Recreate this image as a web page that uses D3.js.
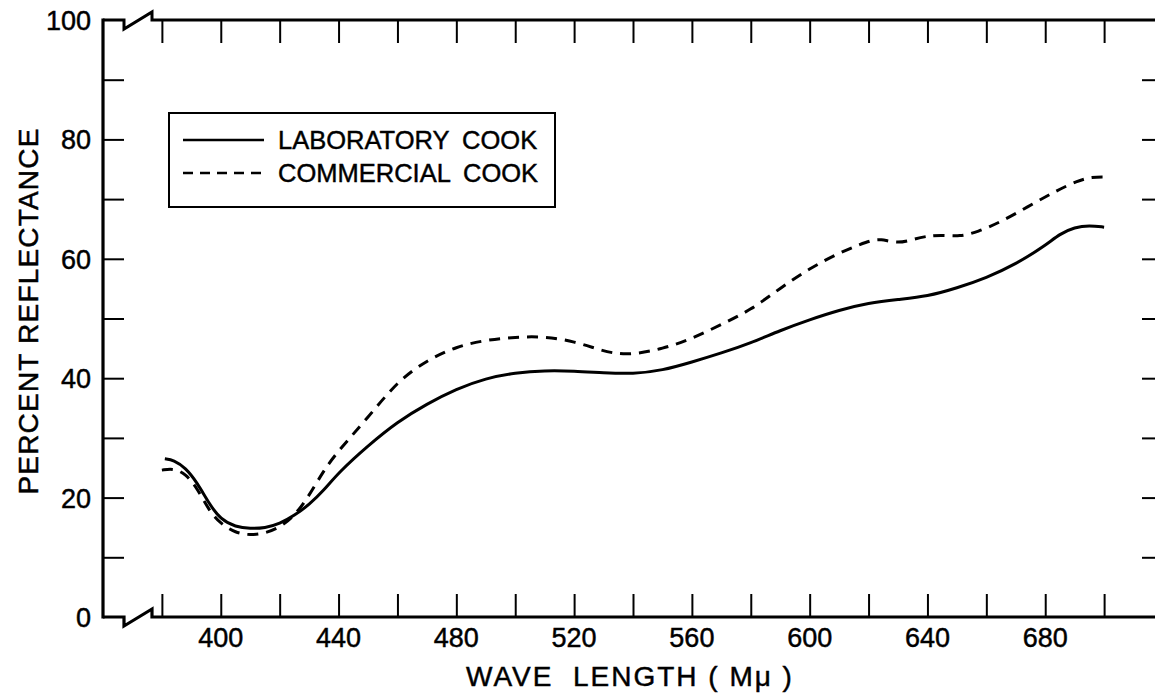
<!DOCTYPE html>
<html><head><meta charset="utf-8">
<script src="https://cdn.jsdelivr.net/npm/d3@7"></script>
<style>
html,body{margin:0;padding:0;background:#fff;}
svg{display:block;}
text{font-family:"Liberation Sans",Arial,sans-serif;fill:#000;stroke:#000;stroke-width:0.45px;}
</style></head>
<body>
<script>
// ---- data ----
const labWave = [381,384,388,392,396,400,405,410,415,420,425,430,435,440,450,460,470,480,490,500,510,520,530,540,550,560,570,580,590,600,610,620,630,640,650,660,670,680,685,690,695,700];
const labValues = [26.5,26.3,25.0,22.5,19.0,16.3,15.1,14.8,14.9,15.6,17.0,18.8,21.2,24.2,28.7,32.7,35.7,38.2,40.0,40.9,41.3,41.2,40.9,40.7,41.3,42.7,44.2,45.9,48.0,49.8,51.4,52.6,53.2,53.7,55.1,56.8,59.1,62.2,64.2,65.3,65.6,65.3];
const comWave = [380,384,388,392,396,400,405,410,415,420,425,430,435,440,450,460,470,480,490,500,510,520,530,535,540,550,560,570,580,590,600,610,620,624,630,636,640,645,651,657,665,674,683,691,696,700];
const comValues = [24.6,24.9,24.0,21.6,17.8,15.6,14.1,13.7,14.0,15.0,16.9,20.3,24.6,27.9,33.4,39.5,43.0,45.3,46.4,46.9,47.0,46.2,44.5,44.1,44.0,44.9,46.6,49.0,51.4,55.1,58.4,61.0,63.0,63.4,62.5,63.4,63.8,64.0,63.7,64.5,66.2,68.7,71.2,73.1,73.7,73.7];
const xTickValues = [380,400,420,440,460,480,500,520,540,560,580,600,620,640,660,680,700];
const xTickLabels = [400,440,480,520,560,600,640,680];
const yTickValues = [10,20,30,40,50,60,70,80,90];
const yTickLabels = [0,20,40,60,80,100];
const seriesNames = ["LABORATORY COOK","COMMERCIAL COOK"];
const xTitle = "WAVE  LENGTH ( Mμ )";
const yTitle = "PERCENT REFLECTANCE";

// ---- layout ----
const W = 1155, H = 698;
const x = d3.scaleLinear().domain([360,720]).range([103,1163]);
const y = d3.scaleLinear().domain([0,100]).range([617,20]);

const svg = d3.select("body").append("svg").attr("width",W).attr("height",H);

const x0 = x(360), yb = y(0), yt = y(100), xr = x(720);
// frame with axis breaks
const brk = [[x0,0],[x0+21,0],[x0+21,9],[x0+49,-8],[x0+49,0]];
function framePath(yy){
  return d3.line()([...brk.map(p=>[p[0],yy+p[1]]),[W+10,yy]]);
}
svg.append("path").attr("d",framePath(yt)).attr("fill","none").attr("stroke","#000").attr("stroke-width",3).attr("stroke-linejoin","miter");
svg.append("path").attr("d",framePath(yb)).attr("fill","none").attr("stroke","#000").attr("stroke-width",3.2);
svg.append("line").attr("x1",x0).attr("x2",x0).attr("y1",yt-1.5).attr("y2",yb+1.5).attr("stroke","#000").attr("stroke-width",3.2);

// x ticks (bottom & top)
const gxb = svg.append("g").attr("transform",`translate(0,${yb})`).call(d3.axisBottom(x).tickValues(xTickValues).tickSize(-23).tickFormat(""));
const gxt = svg.append("g").attr("transform",`translate(0,${yt})`).call(d3.axisTop(x).tickValues(xTickValues).tickSize(-23).tickFormat(""));
[gxb,gxt].forEach(g=>{g.select(".domain").remove();g.selectAll(".tick line").attr("stroke","#000").attr("stroke-width",2);});

// x labels
svg.append("g").selectAll("text").data(xTickLabels).join("text")
  .attr("x",d=>x(d)).attr("y",yb+30).attr("text-anchor","middle").attr("font-size",27).text(d=>d);

// y ticks left & right
const gyl = svg.append("g").attr("transform",`translate(${x0},0)`).call(d3.axisLeft(y).tickValues(yTickValues).tickSize(-21).tickFormat(""));
const gyr = svg.append("g").attr("transform",`translate(${xr},0)`).call(d3.axisRight(y).tickValues(yTickValues).tickSize(-21).tickFormat(""));
[gyl,gyr].forEach(g=>{g.select(".domain").remove();g.selectAll(".tick line").attr("stroke","#000").attr("stroke-width",2);});

svg.append("g").selectAll("text").data(yTickLabels).join("text")
  .attr("x",91).attr("y",d=>y(d)+10).attr("text-anchor","end").attr("font-size",27).text(d=>d);

// titles
svg.append("text").attr("x",630).attr("y",686).attr("text-anchor","middle").attr("font-size",28)
  .attr("letter-spacing",2).style("white-space","pre").text(xTitle);
svg.append("text").attr("transform",`translate(38,311) rotate(-90)`).attr("text-anchor","middle").attr("font-size",28)
  .attr("letter-spacing",1.2).style("white-space","pre").text(yTitle);

// curves
const line = d3.line().x(d=>x(d[0])).y(d=>y(d[1])).curve(d3.curveBasis);
const labData = labWave.map((w,i)=>[w,labValues[i]]);
const comData = comWave.map((w,i)=>[w,comValues[i]]);
svg.append("path").attr("d",line(labData)).attr("fill","none").attr("stroke","#000").attr("stroke-width",3);
svg.append("path").attr("d",line(comData)).attr("fill","none").attr("stroke","#000").attr("stroke-width",3).attr("stroke-dasharray","11,8");

// legend
const lg = svg.append("g");
lg.append("rect").attr("x",169).attr("y",113).attr("width",386).attr("height",94).attr("fill","#fff").attr("stroke","#000").attr("stroke-width",2);
const rows = [{name:seriesNames[0],dash:null,yy:140},{name:seriesNames[1],dash:"10,7",yy:173}];
rows.forEach(r=>{
  lg.append("line").attr("x1",183).attr("x2",264).attr("y1",r.yy).attr("y2",r.yy).attr("stroke","#000").attr("stroke-width",2.5).attr("stroke-dasharray",r.dash);
  lg.append("text").attr("x",278).attr("y",r.yy+9).attr("font-size",25.5).attr("word-spacing",6).text(r.name);
});
</script>
</body></html>
